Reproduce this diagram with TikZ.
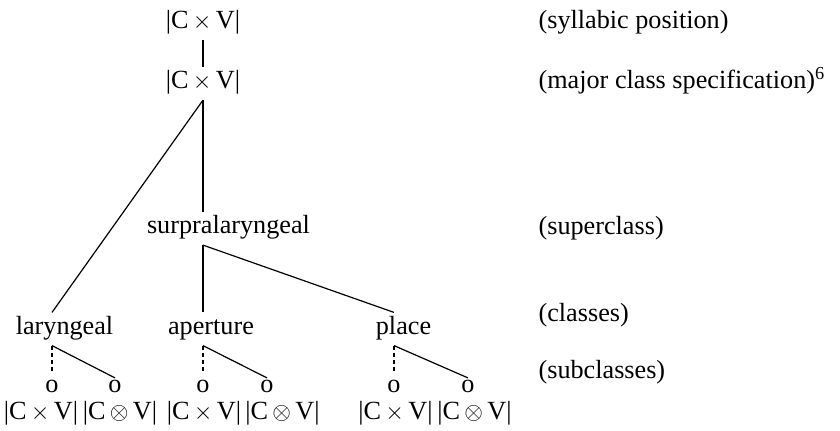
\documentclass[tikz,border=0pt]{standalone}
\usepackage{fontspec}
\setmainfont{Liberation Serif}
\usetikzlibrary{positioning}

\newcommand{\cxv}{|C\,$\times$\,V|}
\newcommand{\cov}{|C\,$\otimes$\,V|}

\begin{document}
\begin{tikzpicture}[x=0.5pt,y=-0.5pt,line width=0.6pt,
		every node/.style={font=\fontsize{13.1}{15}\selectfont,
			inner sep=3pt, text height=0.75em, text depth=0.25em},
		slot/.style={inner sep=2pt, text height=0.5em, text depth=0pt},
		value/.style={inner sep=0pt},
		gloss/.style={anchor=west},
		sub/.style={dash pattern=on 2pt off 1.5pt, shorten >=2.5pt}]
	\useasboundingbox (0,0) rectangle (840,430);
	% tree
	\node (pos) at (203,23) {\cxv};
	\node (major) at (203,83.5) {\cxv};
	\node (supra) at (228.5,228.5) {surpralaryngeal};
	\node (lar) at (64.5,329) {laryngeal};
	\node (ap) at (211,329) {aperture};
	\node (pl) at (403.5,329) {place};
	% subclass slots and their values
	\foreach \name/\x/\y/\val in {lar1/52/41/\cxv, lar2/115/120/\cov,
			ap1/203/204/\cxv, ap2/267/282.5/\cov, pl1/394/395.5/\cxv, pl2/468/474.5/\cov} {
		\node[slot] (\name) at (\x,387.5) {o};
		\node[value] (\name v) at (\y,414) {\val};
	}
	% glosses on the right
	\node[gloss] (g1) at (532,23) {(syllabic position)};
	\node[gloss] (g2) at (532,83) {(major class specification)\textsuperscript{6}};
	\node[gloss] (g3) at (532,229.5) {(superclass)};
	\node[gloss] (g4) at (532,316.5) {(classes)};
	\node[gloss] (g5) at (532,373.5) {(subclasses)};
	% branches
	\draw (pos) -- (major);
	\draw (major.south) -- (lar.north -| lar1);
	\draw (major.south) -- (supra.north -| major);
	\draw (supra.south -| ap1) -- (ap.north -| ap1);
	\draw (supra.south -| ap1) -- (pl.north -| pl1);
	\foreach \cls in {lar, ap, pl} {
		\draw[sub] (\cls.south -| \cls1) -- (\cls1.north);
		\draw (\cls.south -| \cls1) -- (\cls2.north);
	}
\end{tikzpicture}
\end{document}
